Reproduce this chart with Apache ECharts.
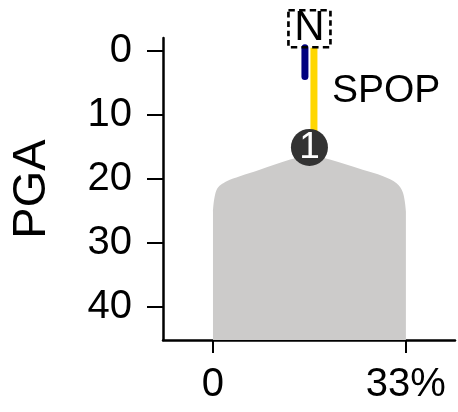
<!DOCTYPE html>
<html>
<head>
<meta charset="utf-8">
<script src="https://cdn.jsdelivr.net/npm/echarts@6/dist/echarts.min.js"></script>
<style>html,body{margin:0;padding:0;background:#fff}#c{width:458px;height:412px}</style>
</head>
<body>
<div id="c"></div>
<script>
// Distribution outline (x = %, y = PGA)
const areaX = [0, 0.63, 2.34, 4.6, 8.0, 13.2, 16.6, 20.0, 25.6, 29.1, 31.4, 32.5, 33.0];
const areaY = [25.1, 21.7, 20.4, 19.6, 18.6, 17.0, 16.4, 17.0, 18.6, 19.6, 20.7, 22.2, 25.1];
// Clone tree branches
const navyX = [15.73, 15.73];
const navyY = [-0.47, 4.0];
const yellowX = [17.27, 17.27];
const yellowY = [-0.47, 15.1];
// Clone node
const nodeX = 16.5, nodeY = 15.1, nodeLabel = '1';
// Root node
const rootX = 16.5, rootY = -3.44, rootLabel = 'N';
// Gene label
const geneX = 20.35, geneY = 6.4, geneLabel = 'SPOP';
// Axes
const yTicks = [0, 10, 20, 30, 40];
const xTicks = [0, 33];
const xTickLabels = ['0', '33%'];
const yName = 'PGA';

const zip = (a, b) => a.map((v, i) => [v, b[i]]);
const FONT = 'Liberation Sans';

const chart = echarts.init(document.getElementById('c'));
chart.setOption({
  animation: false,
  grid: {left: 163, right: 3, top: 38, bottom: 72, containLabel: false, outerBoundsMode: 'none'},
  xAxis: {
    type: 'value', min: -8.55, max: 41.4,
    splitLine: {show: false},
    axisLine: {onZero: false, lineStyle: {color: '#000', width: 2.5}},
    axisTick: {show: true, length: 13, lineStyle: {color: '#000', width: 2}, customValues: xTicks},
    axisLabel: {
      customValues: xTicks, margin: 25, color: '#000', fontSize: 40, fontFamily: FONT,
      formatter: v => xTickLabels[xTicks.indexOf(v)]
    }
  },
  yAxis: {
    type: 'value', inverse: true, min: -2, max: 45.2,
    name: yName, nameLocation: 'middle', nameGap: 107,
    nameTextStyle: {fontSize: 47, color: '#000', fontFamily: FONT},
    splitLine: {show: false},
    axisLine: {onZero: false, lineStyle: {color: '#000', width: 2.5}},
    axisTick: {show: true, length: 16, lineStyle: {color: '#000', width: 2}, customValues: yTicks},
    axisLabel: {customValues: yTicks, margin: 31, color: '#000', fontSize: 40, fontFamily: FONT}
  },
  series: [
    {
      type: 'line', data: zip(areaX, areaY), smooth: 0.35, symbol: 'none',
      lineStyle: {width: 0}, areaStyle: {color: '#cccbca', opacity: 1, origin: 'end'}, z: 1
    },
    {
      type: 'line', data: zip(navyX, navyY), symbol: 'none',
      lineStyle: {color: '#00007f', width: 7, cap: 'round'}, z: 2
    },
    {
      type: 'line', data: zip(yellowX, yellowY), symbol: 'none',
      lineStyle: {color: '#ffd700', width: 7, cap: 'butt'}, z: 2
    },
    {
      type: 'scatter', data: [[nodeX, nodeY]], symbol: 'circle', symbolSize: 37, clip: false,
      itemStyle: {color: '#333333', opacity: 1},
      label: {show: true, position: 'inside', formatter: nodeLabel, color: '#fff', fontSize: 37, fontFamily: FONT},
      z: 3
    },
    {
      type: 'scatter', data: [[rootX, rootY]], symbol: 'rect', symbolSize: [42, 37], clip: false,
      itemStyle: {color: 'rgba(255,255,255,0)', borderColor: '#000', borderWidth: 2.5, borderType: [6, 4], opacity: 1},
      label: {show: true, position: 'inside', formatter: rootLabel, color: '#000', fontSize: 42, fontFamily: FONT},
      z: 4
    },
    {
      type: 'scatter', data: [[geneX, geneY]], symbolSize: 0, clip: false,
      itemStyle: {opacity: 1},
      label: {show: true, position: [0, 0], align: 'left', verticalAlign: 'middle', formatter: geneLabel,
        color: '#000', opacity: 1, fontSize: 39, fontFamily: FONT},
      z: 4
    }
  ]
});
</script>
</body>
</html>
